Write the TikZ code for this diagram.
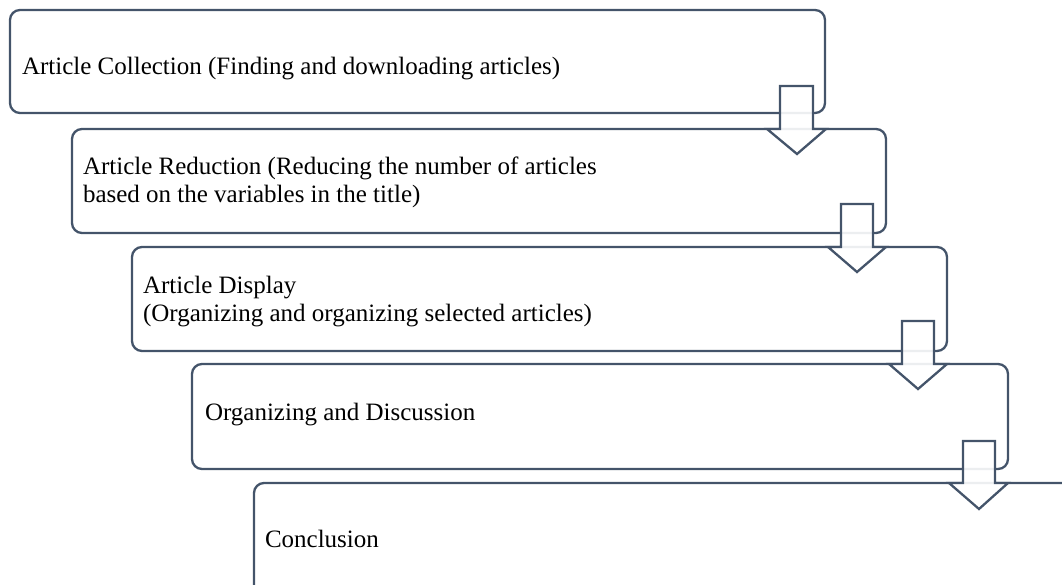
\documentclass[tikz,border=0pt]{standalone}
\usepackage{fontspec}
\setmainfont{Liberation Serif}
\definecolor{lc}{HTML}{44546A}
\begin{document}
\begin{tikzpicture}[x=1pt,y=-1pt,
  box/.style={draw=lc, line width=2.3pt, rounded corners=10pt, anchor=north west, inner sep=0pt, outer sep=0pt},
  txt/.style={anchor=base west, inner sep=0pt, outer sep=0pt, font=\fontsize{25}{28}\selectfont},
  arr/.style={draw=lc, line width=2.3pt, fill=white, fill opacity=0.9, line join=miter}]
\useasboundingbox (0,0) rectangle (1062,585);
\clip (0,0) rectangle (1062,585);
% boxes
\node[box, minimum width=815pt, minimum height=103pt] (b1) at (10,10) {};
\node[box, minimum width=814pt, minimum height=104pt] (b2) at (72,129) {};
\node[box, minimum width=815pt, minimum height=104pt] (b3) at (132,247) {};
\node[box, minimum width=816pt, minimum height=105pt] (b4) at (192,364) {};
\node[box, minimum width=820pt, minimum height=112pt] (b5) at (254,483) {};
% texts
\node[txt] (t1) at (22,75) {Article Collection (Finding and downloading articles)};
\node[txt] (t2a) at (83,175) {Article Reduction (Reducing the number of articles};
\node[txt] (t2b) at (83,203) {based on the variables in the title)};
\node[txt] (t3a) at (143,293) {Article Display};
\node[txt] (t3b) at (143,321) {(Organizing and organizing selected articles)};
\node[txt] (t4) at (205,420) {Organizing and Discussion};
\node[txt] (t5) at (265,547) {Conclusion};
% arrows
\draw[arr] (780,86) -- (813,86) -- (813,129) -- (826,129) -- (797,154) -- (767,129) -- (780,129) -- cycle;
\draw[arr] (841,204) -- (873,204) -- (873,247) -- (886,247) -- (857,272) -- (828,247) -- (841,247) -- cycle;
\draw[arr] (902,321) -- (934,321) -- (934,364) -- (947,364) -- (918,389) -- (889,364) -- (902,364) -- cycle;
\draw[arr] (963,441) -- (995,441) -- (995,483) -- (1008,483) -- (979,509) -- (949,483) -- (963,483) -- cycle;
\end{tikzpicture}
\end{document}
